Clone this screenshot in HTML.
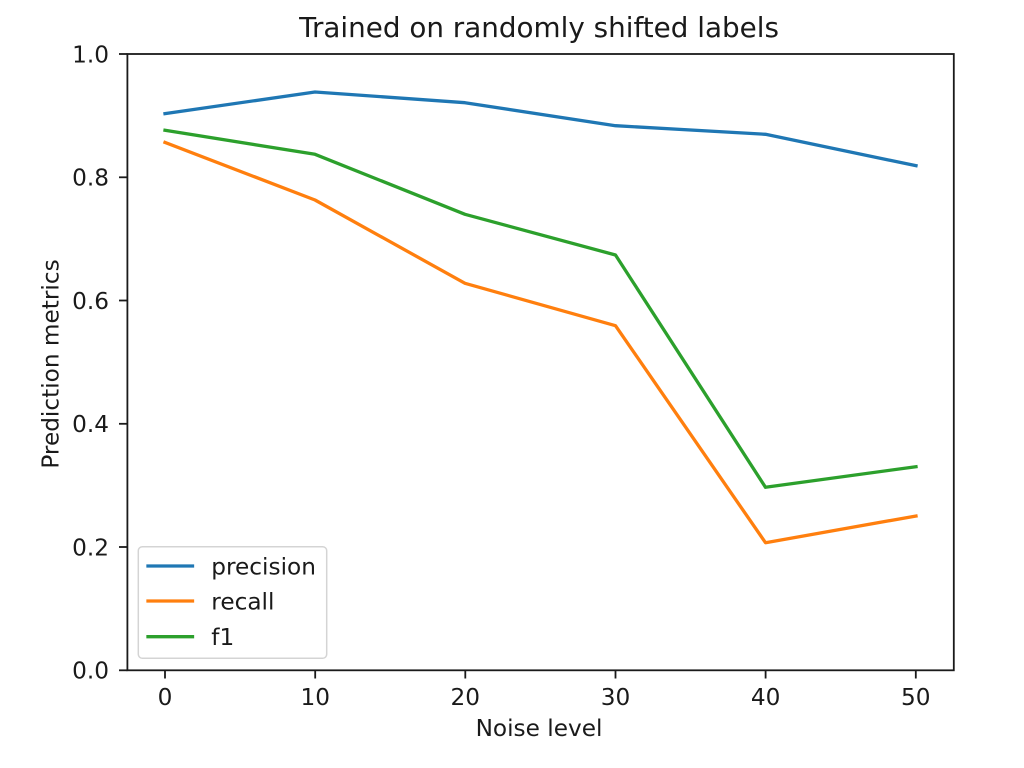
<!DOCTYPE html>
<html>
<head>
<meta charset="utf-8">
<style>
  html, body { margin: 0; padding: 0; background: #ffffff; }
  svg { display: block; }
  text { font-family: "DejaVu Sans", "Liberation Sans", sans-serif; fill: #1a1a1a; }
</style>
</head>
<body>
<svg width="1024" height="768" viewBox="0 0 1024 768" xmlns="http://www.w3.org/2000/svg">
  <rect x="0" y="0" width="1024" height="768" fill="#ffffff"/>

  <!-- Title -->
  <text x="539" y="37" font-size="27.8" text-anchor="middle">Trained on randomly shifted labels</text>

  <!-- Series -->
  <g fill="none" stroke-width="3.3" stroke-linejoin="round" stroke-linecap="square">
    <polyline stroke="#1f77b4" points="165,113.6 315,92 465,102.7 615.5,125.7 765.5,134.3 916,165.7"/>
    <polyline stroke="#ff7f0e" points="165,142.4 315,200 465,283.3 615.5,325.7 765.5,542.7 916,516"/>
    <polyline stroke="#2ca02c" points="165,130.3 315,154.3 465,214.3 615.5,255 765.5,487.3 916,466.7"/>
  </g>

  <!-- Spines -->
  <rect x="127.4" y="54" width="826.4" height="616.3" fill="none" stroke="#1a1a1a" stroke-width="1.8"/>

  <!-- Y ticks -->
  <g stroke="#1a1a1a" stroke-width="1.8">
    <line x1="119" y1="670.3" x2="127.4" y2="670.3"/>
    <line x1="119" y1="547" x2="127.4" y2="547"/>
    <line x1="119" y1="423.8" x2="127.4" y2="423.8"/>
    <line x1="119" y1="300.5" x2="127.4" y2="300.5"/>
    <line x1="119" y1="177.3" x2="127.4" y2="177.3"/>
    <line x1="119" y1="54" x2="127.4" y2="54"/>
  </g>
  <g font-size="23.2" text-anchor="end">
    <text x="109" y="678.7">0.0</text>
    <text x="109" y="555.4">0.2</text>
    <text x="109" y="432.2">0.4</text>
    <text x="109" y="308.9">0.6</text>
    <text x="109" y="185.7">0.8</text>
    <text x="109" y="62.4">1.0</text>
  </g>

  <!-- X ticks -->
  <g stroke="#1a1a1a" stroke-width="1.8">
    <line x1="165" y1="670.3" x2="165" y2="678.5"/>
    <line x1="315.2" y1="670.3" x2="315.2" y2="678.5"/>
    <line x1="465.3" y1="670.3" x2="465.3" y2="678.5"/>
    <line x1="615.5" y1="670.3" x2="615.5" y2="678.5"/>
    <line x1="765.6" y1="670.3" x2="765.6" y2="678.5"/>
    <line x1="915.8" y1="670.3" x2="915.8" y2="678.5"/>
  </g>
  <g font-size="23.2" text-anchor="middle">
    <text x="165" y="705">0</text>
    <text x="315.2" y="705">10</text>
    <text x="465.3" y="705">20</text>
    <text x="615.5" y="705">30</text>
    <text x="765.6" y="705">40</text>
    <text x="915.8" y="705">50</text>
  </g>

  <!-- Axis labels -->
  <text x="539" y="736" font-size="23.2" text-anchor="middle">Noise level</text>
  <text x="0" y="0" font-size="23.2" text-anchor="middle" transform="translate(58.5,364) rotate(-90)">Prediction metrics</text>

  <!-- Legend -->
  <rect x="138.3" y="546.7" width="188.4" height="111.6" rx="4" ry="4" fill="#ffffff" fill-opacity="0.8" stroke="#d4d4d4" stroke-width="1.5"/>
  <g stroke-width="3.3" stroke-linecap="square">
    <line x1="148" y1="566" x2="192.5" y2="566" stroke="#1f77b4"/>
    <line x1="148" y1="601" x2="192.5" y2="601" stroke="#ff7f0e"/>
    <line x1="148" y1="636.7" x2="192.5" y2="636.7" stroke="#2ca02c"/>
  </g>
  <g font-size="23.2">
    <text x="211.3" y="574.5">precision</text>
    <text x="211.3" y="609.5">recall</text>
    <text x="211.3" y="645.2">f1</text>
  </g>
</svg>
</body>
</html>
